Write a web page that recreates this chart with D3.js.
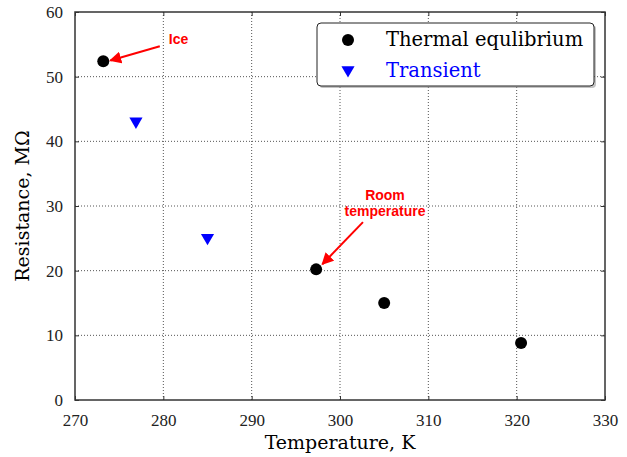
<!DOCTYPE html>
<html>
<head>
<meta charset="utf-8">
<script src="https://cdn.jsdelivr.net/npm/d3@7"></script>
<style>
  body { margin: 0; background: #fff; }
</style>
</head>
<body>
<div id="chart"></div>
<script>
// data
const eqTemp = [273.2, 297.3, 305.0, 320.5];
const eqRes = [52.4, 20.2, 15.0, 8.8];
const trTemp = [276.9, 285.0];
const trRes = [43.1, 25.1];
const xTicks = [270, 280, 290, 300, 310, 320, 330];
const yTicks = [0, 10, 20, 30, 40, 50, 60];

const width = 627;
const height = 457;
const margin = { top: 12, right: 22, bottom: 57, left: 75 };
const serif = "'DejaVu Serif', serif";
const times = "'Liberation Serif', 'Times New Roman', serif";
const sans = "'Liberation Sans', Arial, sans-serif";

const svg = d3.select('#chart')
  .append('svg')
  .attr('width', width)
  .attr('height', height);

const x = d3.scaleLinear()
  .domain([270, 330])
  .range([margin.left, width - margin.right]);

const y = d3.scaleLinear()
  .domain([0, 60])
  .range([height - margin.bottom, margin.top]);

// grid
svg.append('g')
  .selectAll('line')
  .data(xTicks.slice(1, -1))
  .join('line')
    .attr('x1', d => x(d)).attr('x2', d => x(d))
    .attr('y1', y(0)).attr('y2', y(60))
    .attr('stroke', '#555').attr('stroke-width', 1)
    .attr('stroke-dasharray', '1,2');

svg.append('g')
  .selectAll('line')
  .data(yTicks.slice(1, -1))
  .join('line')
    .attr('y1', d => y(d)).attr('y2', d => y(d))
    .attr('x1', x(270)).attr('x2', x(330))
    .attr('stroke', '#555').attr('stroke-width', 1)
    .attr('stroke-dasharray', '1,2');

// axes, ticks pointing inward like matplotlib
function styleAxis(g) {
  g.attr('font-family', null).attr('font-size', null);
  g.select('.domain').remove();
  g.selectAll('.tick line').attr('stroke', '#333');
  g.selectAll('.tick text')
    .style('font-family', times)
    .style('font-size', '17px')
    .attr('fill', '#222');
}

svg.append('g')
  .attr('transform', `translate(0,${y(0)})`)
  .call(d3.axisBottom(x).tickValues(xTicks).tickSize(-4).tickPadding(14))
  .call(styleAxis);

svg.append('g')
  .attr('transform', `translate(0,${y(60)})`)
  .call(d3.axisTop(x).tickValues(xTicks).tickSize(-4).tickFormat(''))
  .call(styleAxis);

svg.append('g')
  .attr('transform', `translate(${x(270)},0)`)
  .call(d3.axisLeft(y).tickValues(yTicks).tickSize(-4).tickPadding(12))
  .call(styleAxis);

svg.append('g')
  .attr('transform', `translate(${x(330)},0)`)
  .call(d3.axisRight(y).tickValues(yTicks).tickSize(-4).tickFormat(''))
  .call(styleAxis);

svg.append('rect')
  .attr('x', x(270)).attr('y', y(60))
  .attr('width', x(330) - x(270)).attr('height', y(0) - y(60))
  .attr('fill', 'none').attr('stroke', '#333').attr('stroke-width', 1.5);

// axis titles
svg.append('text')
  .attr('x', x(300)).attr('y', 449)
  .attr('text-anchor', 'middle')
  .style('font-family', serif)
  .style('font-size', '19px')
  .text('Temperature, K');

svg.append('text')
  .attr('transform', `translate(29,${y(30)}) rotate(-90)`)
  .attr('text-anchor', 'middle')
  .style('font-family', serif)
  .style('font-size', '19px')
  .text('Resistance, MΩ');

// markers
svg.append('g')
  .selectAll('circle')
  .data(eqTemp)
  .join('circle')
    .attr('cx', d => x(d))
    .attr('cy', (d, i) => y(eqRes[i]))
    .attr('r', 6)
    .attr('fill', '#000');

const tri = d3.symbol().type(d3.symbolTriangle).size(75);
svg.append('g')
  .selectAll('path')
  .data(trTemp)
  .join('path')
    .attr('d', tri)
    .attr('transform', (d, i) => `translate(${x(d)},${y(trRes[i])}) rotate(180)`)
    .attr('fill', '#0000ff');

// annotations
const defs = svg.append('defs');
defs.append('marker')
  .attr('id', 'head')
  .attr('viewBox', '0 0 10 10')
  .attr('refX', 9).attr('refY', 5)
  .attr('markerWidth', 6).attr('markerHeight', 6)
  .attr('markerUnits', 'strokeWidth')
  .attr('orient', 'auto')
  .append('path')
    .attr('d', 'M0,0 L10,5 L0,10 Z')
    .attr('fill', '#ff0000');

function annotate(tx, ty, px, py, lines, lx, ly) {
  svg.append('line')
    .attr('x1', x(tx)).attr('y1', y(ty))
    .attr('x2', x(px)).attr('y2', y(py))
    .attr('stroke', '#ff0000').attr('stroke-width', 2)
    .attr('marker-end', 'url(#head)');
  const t = svg.append('text')
    .attr('x', lx).attr('y', ly)
    .attr('text-anchor', 'middle')
    .style('font-family', sans)
    .style('font-weight', 'bold')
    .style('font-size', '14px')
    .attr('fill', '#ff0000');
  lines.forEach((s, i) => {
    t.append('tspan').attr('x', lx).attr('dy', i ? 16 : 0).text(s);
  });
}

annotate(279.6, 54.7, 274.0, 52.5, ['Ice'], 178.5, 44);
annotate(302.6, 27.5, 298.0, 21.0, ['Room', 'temperature'], 385, 200);

// legend
const lg = svg.append('g').attr('transform', 'translate(317,23)');
lg.append('rect')
  .attr('x', 2).attr('y', 2).attr('width', 277).attr('height', 63)
  .attr('rx', 4).attr('fill', '#888').attr('opacity', 0.5);
lg.append('rect')
  .attr('width', 277).attr('height', 63)
  .attr('rx', 4).attr('fill', '#fff')
  .attr('stroke', '#222').attr('stroke-width', 1);

lg.append('circle').attr('cx', 31).attr('cy', 17).attr('r', 6).attr('fill', '#000');
lg.append('path').attr('d', tri)
  .attr('transform', 'translate(31,47) rotate(180)')
  .attr('fill', '#0000ff');

lg.append('text').attr('x', 69).attr('y', 23)
  .style('font-family', serif).style('font-size', '19.5px')
  .attr('fill', '#000')
  .text('Thermal equlibrium');
lg.append('text').attr('x', 69).attr('y', 54)
  .style('font-family', serif).style('font-size', '19.5px')
  .attr('fill', '#0000ff')
  .text('Transient');
</script>
</body>
</html>
